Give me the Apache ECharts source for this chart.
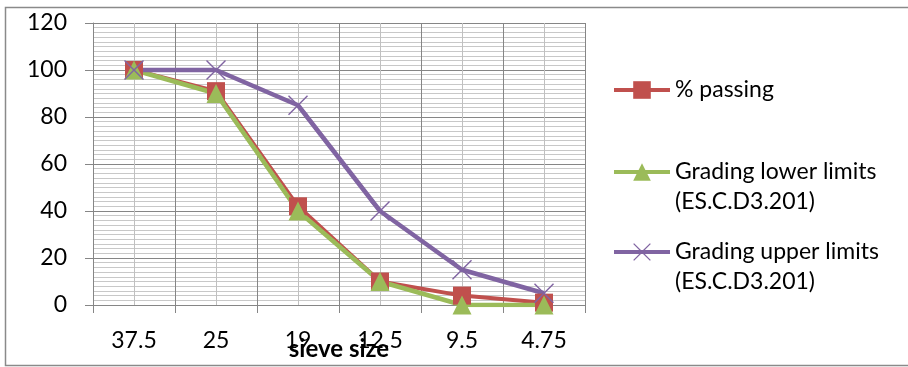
<!DOCTYPE html>
<html>
<head>
<meta charset="utf-8">
<script src="https://cdn.jsdelivr.net/npm/echarts@6/dist/echarts.min.js"></script>
<style>
  html, body { margin: 0; padding: 0; background: #fff; }
  #chart { width: 908px; height: 367px; }
</style>
</head>
<body>
<div id="chart"></div>
<script>
// Sieve sizes (mm) along the category axis
var sieveSizes = ['37.5', '25', '19', '12.5', '9.5', '4.75'];
// Cumulative percent passing for the sample
var percentPassing = [100, 91, 42, 10, 4, 1];
// Specification envelope
var lowerLimits = [100, 90, 40, 10, 0, 0];
var upperLimits = [100, 100, 85, 40, 15, 5];
// Value axis ticks
var yTicks = { min: 0, max: 120, step: 20 };

var seriesNames = ['% passing', 'Grading lower limits (ES.C.D3.201)', 'Grading upper limits (ES.C.D3.201)'];
var colors = ['#C0504D', '#9BBB59', '#8064A2'];
var font = 'Lato, "Open Sans", sans-serif';
var crossPath = 'path://M0,1L1,0L10,9L19,0L20,1L11,10L20,19L19,20L10,11L1,20L0,19L9,10Z';

var chart = echarts.init(document.getElementById('chart'), null, { renderer: 'canvas' });

// One legend block per series; two-part names wrap so the icon sits on the first line
function legendAt(name, centerY) {
  var twoLine = name.indexOf(' (') > 0;
  return {
    data: [name],
    left: 612,
    top: twoLine ? centerY - 45 : centerY - 15,
    orient: 'vertical',
    padding: 0,
    itemWidth: 56,
    itemHeight: 22,
    itemGap: 0,
    lineStyle: { width: 4 },
    textStyle: { fontFamily: font, fontSize: 23, color: '#000', lineHeight: 30 },
    formatter: function (n) {
      return n.indexOf(' (') > 0 ? ' \n' + n.replace(' (', '\n(') : n;
    }
  };
}

var option = {
  animation: false,
  color: colors,
  textStyle: { fontFamily: font },
  graphic: [{
    type: 'polyline',
    shape: { points: [[912, 7.5], [5.5, 7.5], [5.5, 365.5], [912, 365.5]] },
    style: { stroke: '#8a8a8a', lineWidth: 1.5, fill: null },
    silent: true
  }],
  legend: [
    legendAt(seriesNames[0], 90),
    legendAt(seriesNames[1], 172),
    legendAt(seriesNames[2], 252)
  ],
  grid: { left: 93, top: 23, width: 492, height: 282, containLabel: false, outerBoundsMode: 'none' },
  xAxis: [{
    type: 'category',
    data: sieveSizes,
    boundaryGap: true,
    axisLine: { lineStyle: { color: '#868686', width: 1 } },
    axisTick: { show: true, alignWithLabel: false, length: 8, lineStyle: { color: '#868686' } },
    axisLabel: { margin: 24, fontSize: 23, color: '#000', fontFamily: font, interval: 0 },
    splitLine: { show: false },
    name: 'sieve size',
    nameLocation: 'middle',
    nameGap: 32,
    nameMoveOverlap: false,
    nameTextStyle: { fontSize: 24, fontWeight: 'bold', color: '#000', fontFamily: font }
  }, {
    // value axis over the same grid, used only for the vertical grid lines
    type: 'value',
    min: 0, max: sieveSizes.length, interval: 1,
    position: 'top',
    axisLine: { show: false }, axisTick: { show: false }, axisLabel: { show: false },
    splitLine: { show: true, lineStyle: { color: '#868686', width: 1 } },
    minorSplitLine: { show: true, lineStyle: { color: '#c0c0c0', width: 1 } },
    minorTick: { show: false, splitNumber: 2 }
  }],
  yAxis: {
    type: 'value',
    min: yTicks.min, max: yTicks.max, interval: yTicks.step,
    axisLine: { show: true, lineStyle: { color: '#868686', width: 1 } },
    axisTick: { show: true, length: 8, lineStyle: { color: '#868686' } },
    axisLabel: { margin: 26, fontSize: 23, color: '#000', fontFamily: font },
    splitLine: { show: true, lineStyle: { color: '#868686', width: 1 } },
    minorTick: { show: false, splitNumber: 10 },
    minorSplitLine: { show: true, lineStyle: { color: '#c8c8c8', width: 1 } }
  },
  series: [{
    name: seriesNames[0], type: 'line', data: percentPassing,
    symbol: 'rect', symbolSize: 18,
    lineStyle: { width: 4, color: colors[0] },
    itemStyle: { color: colors[0] }
  }, {
    name: seriesNames[1], type: 'line', data: lowerLimits,
    symbol: 'triangle', symbolSize: 19,
    lineStyle: { width: 4.5, color: colors[1] },
    itemStyle: { color: colors[1] }
  }, {
    name: seriesNames[2], type: 'line', data: upperLimits,
    symbol: crossPath, symbolSize: 20,
    lineStyle: { width: 4.5, color: colors[2] },
    itemStyle: { color: colors[2] }
  }]
};

chart.setOption(option);
</script>
</body>
</html>
